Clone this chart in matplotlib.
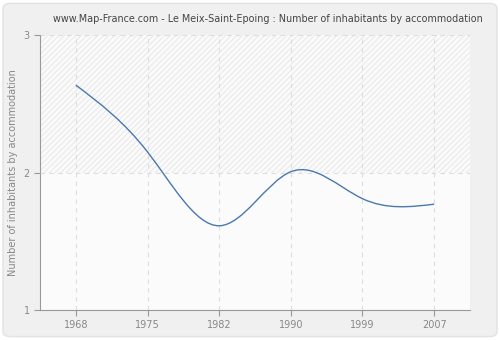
import matplotlib
matplotlib.use("Agg")
import matplotlib.pyplot as plt
import numpy as np
from matplotlib.path import Path
from matplotlib.patches import PathPatch, FancyBboxPatch

years = ["1968", "1975", "1982", "1990", "1999", "2007"]
values = [2.636, 2.15, 1.613, 2.006, 1.81, 1.77]

matplotlib.rcParams["hatch.linewidth"] = 0.5

fig = plt.figure(figsize=(5, 3.4), dpi=100)
fig.patch.set_facecolor("white")
# rounded grey panel behind everything
bg = FancyBboxPatch((0.006, 0.01), 0.988, 0.98, boxstyle="round,pad=0,rounding_size=0.015",
                    transform=fig.transFigure, facecolor="#f0f0f0", edgecolor="#e2e2e2", lw=1, zorder=-5)
fig.patches.append(bg)

ax = fig.add_axes([0.08, 0.088, 0.86, 0.809])
ax.set_facecolor("#fbfbfb")
xs = list(range(len(years)))
ax.set_xlim(-0.5, len(years) - 0.5)
ax.set_ylim(1, 3)

# hatched upper band
ax.fill_between([-0.5, len(years) - 0.5], 2, 3, facecolor="#fafafa", edgecolor="#e2e2e2", hatch="//////", lw=0)

# natural cubic spline through the points, drawn as bezier segments
y = np.array(values)
n = len(y)
A = np.zeros((n, n))
r = np.zeros(n)
A[0, 0] = A[-1, -1] = 1
for i in range(1, n - 1):
    A[i, i - 1], A[i, i], A[i, i + 1] = 1, 4, 1
    r[i] = 6 * (y[i + 1] - 2 * y[i] + y[i - 1])
M = np.linalg.solve(A, r)
slopes = [(y[i + 1] - y[i]) - (2 * M[i] + M[i + 1]) / 6 for i in range(n - 1)]
slopes.append((y[-1] - y[-2]) + (M[-2] + 2 * M[-1]) / 6)

verts = [(xs[0], y[0])]
codes = [Path.MOVETO]
for i in range(n - 1):
    verts += [(xs[i] + 1 / 3, y[i] + slopes[i] / 3),
              (xs[i + 1] - 1 / 3, y[i + 1] - slopes[i + 1] / 3),
              (xs[i + 1], y[i + 1])]
    codes += [Path.CURVE4] * 3
ax.add_patch(PathPatch(Path(verts, codes), facecolor="none", edgecolor="#4a78b0", lw=1, zorder=3))

ax.set_xticks(xs)
ax.set_xticklabels(years)
ax.set_yticks([1, 2, 3])
ax.grid(True, color="#dddddd", linestyle=(0, (4, 4)), lw=0.8)
ax.set_axisbelow(False)
for s in ["top", "right"]:
    ax.spines[s].set_visible(False)
for s in ["left", "bottom"]:
    ax.spines[s].set_color("#999999")
ax.tick_params(colors="#999999", labelcolor="#888888", labelsize=7, length=4)
ax.set_ylabel("Number of inhabitants by accommodation", color="#888888", fontsize=7)
fig.text(0.535, 0.945, "www.Map-France.com - Le Meix-Saint-Epoing : Number of inhabitants by accommodation",
         fontsize=6.9, color="#444444", ha="center", va="center")

fig.savefig("out.png", dpi=100, facecolor=fig.get_facecolor())
